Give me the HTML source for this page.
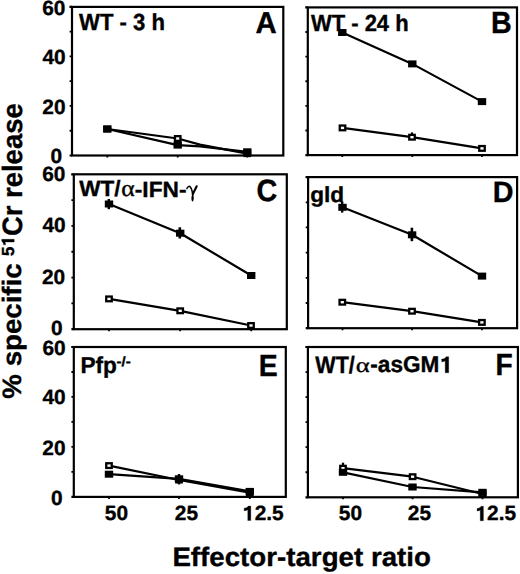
<!DOCTYPE html>
<html><head><meta charset="utf-8"><style>
html,body{margin:0;padding:0;background:#fff;}
svg{display:block;}
text{font-family:"Liberation Sans",sans-serif;font-weight:bold;fill:#000;text-rendering:geometricPrecision;stroke:#000;stroke-width:0.35px;}
</style></head><body>
<svg width="520" height="574" viewBox="0 0 520 574">
<rect width="520" height="574" fill="#fff"/>
<rect x="72" y="6.9" width="211.3" height="148.6" fill="none" stroke="#000" stroke-width="2.2"/>
<path d="M69.6 130.733h1.6 M69.6 105.967h1.6 M69.6 81.2h1.6 M69.6 56.433h1.6 M69.6 31.667h1.6 M107.3 155.5v2.0 M177.7 155.5v2.0 M247.3 155.5v2.0" stroke="#000" stroke-width="1.8" fill="none"/>
<path d="M69.4 6.9H72 M69.6 155.5H72" stroke="#000" stroke-width="2.2" fill="none"/>
<rect x="307.8" y="7.4" width="209.2" height="147.7" fill="none" stroke="#000" stroke-width="2.2"/>
<path d="M305.4 130.483h1.6 M305.4 105.867h1.6 M305.4 81.25h1.6 M305.4 56.633h1.6 M305.4 32.017h1.6 M342.3 155.1v2.0 M412.3 155.1v2.0 M482 155.1v2.0" stroke="#000" stroke-width="1.8" fill="none"/>
<path d="M305.2 7.4H307.8 M305.4 155.1H307.8" stroke="#000" stroke-width="2.2" fill="none"/>
<rect x="73.8" y="174.3" width="213" height="154.9" fill="none" stroke="#000" stroke-width="2.2"/>
<path d="M71.4 303.383h1.6 M71.4 277.567h1.6 M71.4 251.75h1.6 M71.4 225.933h1.6 M71.4 200.117h1.6 M109 329.2v2.0 M180.2 329.2v2.0 M251.2 329.2v2.0" stroke="#000" stroke-width="1.8" fill="none"/>
<path d="M71.2 174.3H73.8 M71.4 329.2H73.8" stroke="#000" stroke-width="2.2" fill="none"/>
<rect x="308.1" y="177.1" width="209" height="151.1" fill="none" stroke="#000" stroke-width="2.2"/>
<path d="M305.7 303.017h1.6 M305.7 277.833h1.6 M305.7 252.65h1.6 M305.7 227.467h1.6 M305.7 202.283h1.6 M342.5 328.2v2.0 M412.1 328.2v2.0 M482 328.2v2.0" stroke="#000" stroke-width="1.8" fill="none"/>
<path d="M305.5 177.1H308.1 M305.7 328.2H308.1" stroke="#000" stroke-width="2.2" fill="none"/>
<rect x="73.8" y="347" width="212" height="149.9" fill="none" stroke="#000" stroke-width="2.2"/>
<path d="M71.4 471.917h1.6 M71.4 446.933h1.6 M71.4 421.95h1.6 M71.4 396.967h1.6 M71.4 371.983h1.6 M109 496.9v2.0 M179 496.9v2.0 M249.8 496.9v2.0" stroke="#000" stroke-width="1.8" fill="none"/>
<path d="M71.2 347H73.8 M71.4 496.9H73.8" stroke="#000" stroke-width="2.2" fill="none"/>
<rect x="307.9" y="347" width="210" height="150.3" fill="none" stroke="#000" stroke-width="2.2"/>
<path d="M305.5 472.25h1.6 M305.5 447.2h1.6 M305.5 422.15h1.6 M305.5 397.1h1.6 M305.5 372.05h1.6 M343 497.3v2.0 M412.5 497.3v2.0 M482.5 497.3v2.0" stroke="#000" stroke-width="1.8" fill="none"/>
<path d="M305.3 347H307.9 M305.5 497.3H307.9" stroke="#000" stroke-width="2.2" fill="none"/>
<polyline points="107.3,129 177.7,138.5 200,144.6 247.3,153.6" fill="none" stroke="#000" stroke-width="2.2" stroke-linejoin="round"/>
<polyline points="107.3,129 177.7,145.1 200,146.4 247.3,151.8" fill="none" stroke="#000" stroke-width="2.2" stroke-linejoin="round"/>
<polyline points="342.5,127.9 412,137.2 482,148.4" fill="none" stroke="#000" stroke-width="2.2" stroke-linejoin="round"/>
<polyline points="342.3,32.5 412.3,63.9 482,101.6" fill="none" stroke="#000" stroke-width="2.2" stroke-linejoin="round"/>
<polyline points="109,298.9 180.2,310.8 251,325.5" fill="none" stroke="#000" stroke-width="2.2" stroke-linejoin="round"/>
<polyline points="109,204 180.2,233.2 251.2,275.5" fill="none" stroke="#000" stroke-width="2.2" stroke-linejoin="round"/>
<polyline points="342.3,302.2 412,311.2 481.9,322.4" fill="none" stroke="#000" stroke-width="2.2" stroke-linejoin="round"/>
<polyline points="342.5,207.3 412.1,234.8 482,276.1" fill="none" stroke="#000" stroke-width="2.2" stroke-linejoin="round"/>
<polyline points="109,465.6 179,480 249.8,492.6" fill="none" stroke="#000" stroke-width="2.2" stroke-linejoin="round"/>
<polyline points="109,474.2 179,478.8 249.8,491.4" fill="none" stroke="#000" stroke-width="2.2" stroke-linejoin="round"/>
<polyline points="343,468.2 412.6,476.7 482.5,494" fill="none" stroke="#000" stroke-width="2.2" stroke-linejoin="round"/>
<polyline points="343,472.3 412.5,487 482.5,492.3" fill="none" stroke="#000" stroke-width="2.2" stroke-linejoin="round"/>
<path d="M108.8 199V209.2" stroke="#000" stroke-width="2.4" fill="none"/>
<path d="M179.8 227.3V238.5" stroke="#000" stroke-width="2.6" fill="none"/>
<path d="M342.2 201.5V212.6" stroke="#000" stroke-width="2.3" fill="none"/>
<path d="M411.9 227.7V241.2" stroke="#000" stroke-width="2.6" fill="none"/>
<path d="M412 132.4V137" stroke="#000" stroke-width="2.2" fill="none"/>
<path d="M343 462.7V468" stroke="#000" stroke-width="2.3" fill="none"/>
<path d="M179 474V484.4" stroke="#000" stroke-width="2.4" fill="none"/>
<rect x="104.55" y="126.65" width="5.5" height="4.7" fill="#fff" stroke="#000" stroke-width="2.3"/>
<rect x="174.95" y="136.15" width="5.5" height="4.7" fill="#fff" stroke="#000" stroke-width="2.3"/>
<rect x="244.55" y="151.25" width="5.5" height="4.7" fill="#fff" stroke="#000" stroke-width="2.3"/>
<rect x="103.1" y="125.5" width="8.4" height="7" fill="#000"/>
<rect x="173.5" y="141.6" width="8.4" height="7" fill="#000"/>
<rect x="243.1" y="148.3" width="8.4" height="7" fill="#000"/>
<rect x="339.75" y="125.55" width="5.5" height="4.7" fill="#fff" stroke="#000" stroke-width="2.3"/>
<rect x="409.25" y="134.85" width="5.5" height="4.7" fill="#fff" stroke="#000" stroke-width="2.3"/>
<rect x="479.25" y="146.05" width="5.5" height="4.7" fill="#fff" stroke="#000" stroke-width="2.3"/>
<rect x="338.1" y="29" width="8.4" height="7" fill="#000"/>
<rect x="408.1" y="60.4" width="8.4" height="7" fill="#000"/>
<rect x="477.8" y="98.1" width="8.4" height="7" fill="#000"/>
<rect x="106.25" y="296.55" width="5.5" height="4.7" fill="#fff" stroke="#000" stroke-width="2.3"/>
<rect x="177.45" y="308.45" width="5.5" height="4.7" fill="#fff" stroke="#000" stroke-width="2.3"/>
<rect x="248.25" y="323.15" width="5.5" height="4.7" fill="#fff" stroke="#000" stroke-width="2.3"/>
<rect x="104.8" y="200.5" width="8.4" height="7" fill="#000"/>
<rect x="176" y="229.7" width="8.4" height="7" fill="#000"/>
<rect x="247" y="272" width="8.4" height="7" fill="#000"/>
<rect x="339.55" y="299.85" width="5.5" height="4.7" fill="#fff" stroke="#000" stroke-width="2.3"/>
<rect x="409.25" y="308.85" width="5.5" height="4.7" fill="#fff" stroke="#000" stroke-width="2.3"/>
<rect x="479.15" y="320.05" width="5.5" height="4.7" fill="#fff" stroke="#000" stroke-width="2.3"/>
<rect x="338.3" y="203.8" width="8.4" height="7" fill="#000"/>
<rect x="407.9" y="231.3" width="8.4" height="7" fill="#000"/>
<rect x="477.8" y="272.6" width="8.4" height="7" fill="#000"/>
<rect x="106.25" y="463.25" width="5.5" height="4.7" fill="#fff" stroke="#000" stroke-width="2.3"/>
<rect x="176.25" y="477.65" width="5.5" height="4.7" fill="#fff" stroke="#000" stroke-width="2.3"/>
<rect x="247.05" y="490.25" width="5.5" height="4.7" fill="#fff" stroke="#000" stroke-width="2.3"/>
<rect x="104.8" y="470.7" width="8.4" height="7" fill="#000"/>
<rect x="174.8" y="475.3" width="8.4" height="7" fill="#000"/>
<rect x="245.6" y="487.9" width="8.4" height="7" fill="#000"/>
<rect x="340.25" y="465.85" width="5.5" height="4.7" fill="#fff" stroke="#000" stroke-width="2.3"/>
<rect x="409.85" y="474.35" width="5.5" height="4.7" fill="#fff" stroke="#000" stroke-width="2.3"/>
<rect x="479.75" y="491.65" width="5.5" height="4.7" fill="#fff" stroke="#000" stroke-width="2.3"/>
<rect x="338.8" y="468.8" width="8.4" height="7" fill="#000"/>
<rect x="408.3" y="483.5" width="8.4" height="7" fill="#000"/>
<rect x="478.3" y="488.8" width="8.4" height="7" fill="#000"/>
<path d="M186.9 188.6C187.6 186.7 189.2 185.7 190.3 186.9C191.4 188.3 192.3 191.4 192.8 194.4" fill="none" stroke="#000" stroke-width="1.5" stroke-linecap="round"/>
<path d="M196.7 186.3L192.7 194.2" fill="none" stroke="#000" stroke-width="2.1" stroke-linecap="round"/>
<path d="M192.7 193.6C194.2 196.4 194.3 200.2 192.5 201.8C190.8 200.2 191.2 196.4 192.7 193.6Z" fill="#000"/>
<path d="M247.78 520.50L250.80 520.50L250.80 506.10L248.39 506.10C247.25 507.54 246.31 508.12 244.10 508.19L244.10 510.71C245.44 510.71 246.78 510.28 247.78 509.70Z" fill="#000" stroke="#000" stroke-width="0.3"/>
<path d="M480.25 520.75L483.40 520.75L483.40 506.30L481.13 506.30C480.06 507.75 479.18 508.32 477.10 508.40L477.10 510.92C478.36 510.92 479.62 510.49 480.25 509.91Z" fill="#000" stroke="#000" stroke-width="0.3"/>
<path d="M14.20 242.05L14.20 239.30L1.70 239.30L1.70 241.28C2.95 242.22 3.45 242.99 3.51 244.80L5.70 244.80C5.70 243.70 5.32 242.60 4.83 242.05Z" fill="#000" stroke="#000" stroke-width="0.3"/>
<path d="M445.20 372.80L448.70 372.80L448.70 356.70L446.18 356.70C444.99 358.31 444.01 358.95 441.70 359.03L441.70 361.85C443.10 361.85 444.50 361.37 445.20 360.73Z" fill="#000" stroke="#000" stroke-width="0.3"/>
<text transform="translate(42.24,14.649) scale(0.9943,0.9813)" font-size="21">60</text>
<text transform="translate(42.406,63.962) scale(0.9943,0.9813)" font-size="21">40</text>
<text transform="translate(42.278,113.96) scale(0.9943,0.9813)" font-size="21">20</text>
<text transform="translate(50.613,163.047) scale(0.9943,0.9813)" font-size="21">0</text>
<text transform="translate(42.24,180.758) scale(0.9943,0.9813)" font-size="21">60</text>
<text transform="translate(42.406,231.93) scale(0.9943,0.9813)" font-size="21">40</text>
<text transform="translate(41.94,283.958) scale(0.9943,0.9813)" font-size="21">20</text>
<text transform="translate(51.001,335.038) scale(0.9943,0.9813)" font-size="21">0</text>
<text transform="translate(42.386,355.286) scale(0.9943,0.9813)" font-size="21">60</text>
<text transform="translate(42.406,403.962) scale(0.9943,0.9813)" font-size="21">40</text>
<text transform="translate(42.278,455.395) scale(0.9943,0.9813)" font-size="21">20</text>
<text transform="translate(51.001,505.038) scale(0.9943,0.9813)" font-size="21">0</text>
<text transform="translate(104.787,520.124) scale(0.9943,0.9813)" font-size="21">50</text>
<text transform="translate(174.788,520.197) scale(0.9943,0.9813)" font-size="21">25</text>
<text transform="translate(254.681,520.359) scale(0.9943,0.9813)" font-size="21">2.5</text>
<text transform="translate(338.803,519.901) scale(0.9943,0.9813)" font-size="21">50</text>
<text transform="translate(407.861,519.964) scale(0.9943,0.9813)" font-size="21">25</text>
<text transform="translate(487.08,520.173) scale(0.9943,0.9813)" font-size="21">2.5</text>
<text transform="translate(79.088,30.376) scale(1.0046,1.0553)" font-size="22">WT - 3 h</text>
<text transform="translate(310.882,31.471) scale(0.9999,1.0552)" font-size="22">WT - 24 h</text>
<text transform="translate(79.197,196.492) scale(1.0256,1.0016)" font-size="22">WT/</text>
<text transform="translate(121.222,196.419) scale(1.1685,1.0590)" font-size="22" style='font-family:"Liberation Serif";font-weight:normal;'>α</text>
<text transform="translate(134.768,196.895) scale(1.0332,1.0016)" font-size="22">-IFN-</text>
<text transform="translate(310.18,201.881) scale(1.0288,0.9957)" font-size="22">gld</text>
<text transform="translate(80.375,372.625) scale(1.0271,1.0450)" font-size="22">Pfp</text>
<text transform="translate(116.463,366.223) scale(1.0743,0.9521)" font-size="14">-/-</text>
<text transform="translate(315.358,372.6) scale(0.9794,1.0769)" font-size="22">WT/</text>
<text transform="translate(355.872,372.489) scale(1.2134,0.9361)" font-size="22" style='font-family:"Liberation Serif";font-weight:normal;'>α</text>
<text transform="translate(370.321,372.492) scale(1.0274,1.0363)" font-size="22">-asGM</text>
<text transform="translate(255.576,32.766) scale(1.0135,1.0424)" font-size="29">A</text>
<text transform="translate(491.047,32.609) scale(0.9891,1.0511)" font-size="29">B</text>
<text transform="translate(256.498,201.159) scale(0.9906,1.0602)" font-size="29">C</text>
<text transform="translate(492.695,201.786) scale(0.9924,1.0104)" font-size="29">D</text>
<text transform="translate(258.628,375.954) scale(0.9795,1.0514)" font-size="29">E</text>
<text transform="translate(495.517,375.482) scale(0.9718,1.0511)" font-size="29">F</text>
<text transform="translate(172.382,566.216) scale(1.0257,0.9822)" font-size="27">Effector-target ratio</text>
<text transform="translate(21.329,398.65) rotate(-90) scale(1.0058,0.9689)" font-size="27.5">% specific</text>
<text transform="translate(14.246,256.081) rotate(-90) scale(0.9893,1.0303)" font-size="17">5</text>
<text transform="translate(22.365,236.12) rotate(-90) scale(0.9986,1.0192)" font-size="27.5">Cr release</text>
</svg>
</body></html>
